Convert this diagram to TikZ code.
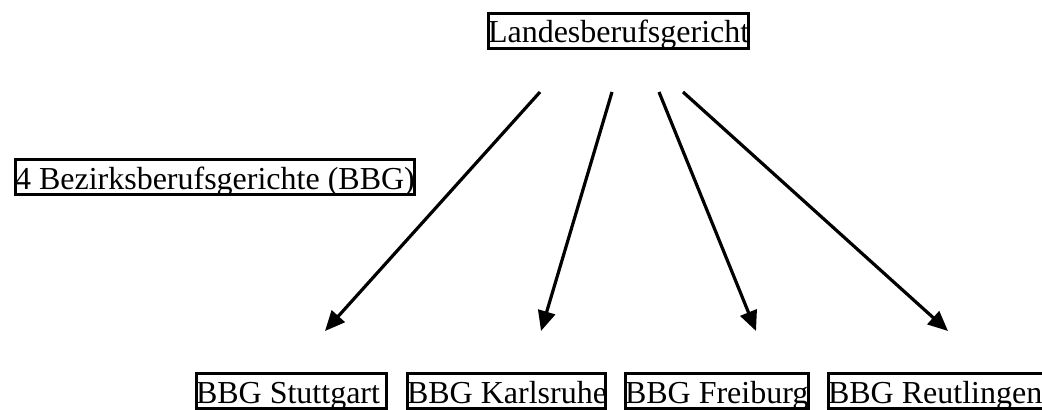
\documentclass[tikz,border=0pt]{standalone}
\usepackage{fontspec}
\setmainfont{Liberation Serif}
\usetikzlibrary{arrows.meta}
\begin{document}
\begin{tikzpicture}[x=0.75pt,y=-0.75pt,
  court/.style={draw, line width=2.25pt, inner sep=0pt, anchor=base west,
    text height=22.1pt, text depth=4.1pt,
    font=\fontsize{24pt}{28pt}\selectfont},
  link/.style={line width=2.4pt, -{Triangle[length=15pt,width=13pt]}}]
\useasboundingbox (0,0) rectangle (1042,410);
\clip (0,0) rectangle (1042,410);
\node[court] (lbg) at (486.5,43) {\makebox[195pt][l]{Landesberufsgericht}};
\node[court] (bbg) at (13.5,189) {\makebox[299.25pt][l]{4 Bezirksberufsgerichte (BBG)}};
\node[court] (stu) at (194.5,403) {\makebox[142.5pt][l]{BBG Stuttgart}};
\node[court] (kar) at (405.5,403) {\makebox[148.5pt][l]{BBG Karlsruhe}};
\node[court] (fre) at (623.5,403) {\makebox[137.25pt][l]{BBG Freiburg}};
\node[court] (reu) at (826.5,403) {\makebox[165pt][l]{BBG Reutlingen}};
\coordinate (s1) at (540,92);
\coordinate (s2) at (612,92);
\coordinate (s3) at (659,92);
\coordinate (s4) at (683,92);
\coordinate (e1) at (325,331);
\coordinate (e2) at (541,331);
\coordinate (e3) at (756,331);
\coordinate (e4) at (948,331);
\draw[link] (s1) -- (e1);
\draw[link] (s2) -- (e2);
\draw[link] (s3) -- (e3);
\draw[link] (s4) -- (e4);
\end{tikzpicture}
\end{document}
